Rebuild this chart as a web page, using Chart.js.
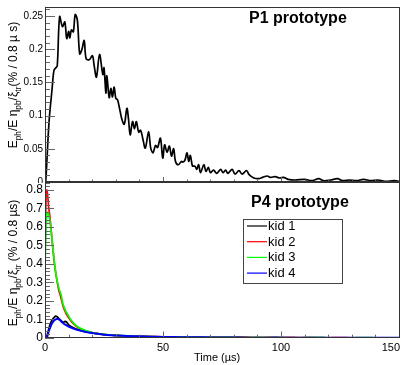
<!DOCTYPE html>
<html>
<head>
<meta charset="utf-8">
<script src="https://cdn.jsdelivr.net/npm/chart.js@4.4.0/dist/chart.umd.min.js"></script>
<style>
  html, body { margin: 0; padding: 0; background: #fff; }
  #wrap { position: relative; width: 407px; height: 365px; overflow: hidden; }
  canvas { position: absolute; left: 0; }
  #p1Chart { top: 0; }
  #p4Chart { top: 182px; }
</style>
</head>
<body>
<div id="wrap">
  <canvas id="p1Chart" width="407" height="183"></canvas>
  <canvas id="p4Chart" width="407" height="183"></canvas>
</div>
<script>
// P1 prototype, single readout
const p1Time = [0, 0.3, 1.7, 3.0, 3.8, 4.6, 5.2, 6.2, 7.4, 8.4, 9.2, 10.0, 10.5, 11.2, 12.0, 12.8, 13.7, 14.7, 15.6, 16.6,
  17.4, 18.7, 20.1, 20.8, 21.8, 23.1, 24.5, 25.0, 25.8, 26.2, 27.2, 27.9, 28.6, 29.3, 30.0, 30.7, 31.4, 32.6, 33.6, 34.7,
  35.4, 36.1, 37.1, 37.9, 38.7, 39.7, 40.5, 41.4, 42.5, 43.9, 44.8, 45.8, 46.8, 47.7, 48.9, 49.9, 50.7, 51.7, 52.7, 53.6,
  54.5, 55.3, 56.5, 57.8, 58.5, 59.3, 60.2, 60.9, 61.6, 62.5, 63.5, 64.3, 65.1, 65.9, 67.3, 68.2, 69.2, 70.1, 71.4, 72.8,
  74.4, 75.5, 76.5, 77.5, 79.3, 80.5, 82.2, 83.5, 85.4, 86.5, 88.5, 90.5, 92.2, 94.2, 95.5, 97.5, 99.5, 101, 103, 106,
  110, 113, 116, 118, 121, 124, 126, 129, 132, 135, 138, 141, 144, 148, 150];
const p1Signal = [0, 0.0, 0.09, 0.14, 0.168, 0.172, 0.175, 0.249, 0.234, 0.241, 0.216, 0.227, 0.217, 0.229, 0.226, 0.252, 0.244, 0.193, 0.199, 0.213,
  0.186, 0.184, 0.19, 0.176, 0.158, 0.192, 0.162, 0.172, 0.134, 0.16, 0.127, 0.141, 0.128, 0.143, 0.126, 0.124, 0.114, 0.094, 0.087, 0.111,
  0.094, 0.071, 0.091, 0.08, 0.091, 0.075, 0.078, 0.066, 0.051, 0.076, 0.051, 0.044, 0.055, 0.052, 0.066, 0.036, 0.056, 0.045, 0.054, 0.039,
  0.05, 0.031, 0.026, 0.031, 0.03, 0.033, 0.044, 0.031, 0.04, 0.024, 0.024, 0.019, 0.026, 0.014, 0.026, 0.016, 0.022, 0.014, 0.018, 0.013,
  0.019, 0.014, 0.018, 0.013, 0.019, 0.012, 0.017, 0.012, 0.017, 0.011, 0.006, 0.005, 0.007, 0.009, 0.007, 0.008, 0.006, 0.007, 0.004, 0.003,
  0.004, 0.002, 0.005, 0.002, 0.003, 0.005, 0.002, 0.003, 0.002, 0.004, 0.002, 0.003, 0.001, 0.002, 0.001];

// P4 prototype, four KIDs
const p4Time = [0, 0.4, 0.8, 1.2, 1.6, 2.0, 2.5, 3.0, 3.5, 4.0, 4.5, 5.0, 5.5, 6.0, 6.5, 7.0, 7.5, 8.0, 8.5, 9.0,
  9.5, 10, 11, 12, 13, 14, 15, 16.5, 18, 19.5, 21, 23, 25, 28, 31, 35, 40, 45, 50, 55,
  60, 65, 70, 75, 80, 85, 90, 95, 100, 105, 110, 115, 120, 125, 130, 135, 140, 145, 150];
const kid1 = [0, 0, 0.01, 0.03, 0.05, 0.068, 0.085, 0.097, 0.106, 0.113, 0.118, 0.116, 0.11, 0.104, 0.098, 0.092, 0.087, 0.086, 0.09, 0.088,
  0.08, 0.072, 0.062, 0.055, 0.05, 0.045, 0.041, 0.036, 0.032, 0.028, 0.025, 0.021, 0.018, 0.015, 0.013, 0.011, 0.009, 0.007, 0.006, 0.005,
  0.005, 0.004, 0.004, 0.003, 0.003, 0.003, 0.002, 0.002, 0.002, 0.002, 0.001, 0.002, 0.001, 0.001, 0.001, 0.001, 0.001, 0.001, 0.001];
const kid2 = [0.42, 0.74, 0.80, 0.76, 0.70, 0.665, 0.60, 0.53, 0.46, 0.40, 0.355, 0.315, 0.28, 0.25, 0.23, 0.205, 0.18, 0.16, 0.145, 0.13,
  0.12, 0.11, 0.092, 0.078, 0.066, 0.057, 0.05, 0.042, 0.035, 0.03, 0.027, 0.022, 0.019, 0.016, 0.013, 0.011, 0.009, 0.008, 0.006, 0.005,
  0.005, 0.004, 0.004, 0.003, 0.003, 0.003, 0.002, 0.003, 0.002, 0.002, 0.002, 0.001, 0.001, 0.002, 0.001, 0.001, 0.001, 0.001, 0.001];
const kid3 = [0.36, 0.58, 0.67, 0.68, 0.665, 0.64, 0.59, 0.53, 0.47, 0.41, 0.36, 0.32, 0.29, 0.265, 0.245, 0.225, 0.19, 0.17, 0.155, 0.14,
  0.13, 0.118, 0.098, 0.082, 0.07, 0.06, 0.052, 0.044, 0.037, 0.031, 0.026, 0.023, 0.02, 0.016, 0.014, 0.011, 0.009, 0.007, 0.006, 0.006,
  0.005, 0.004, 0.003, 0.004, 0.003, 0.002, 0.003, 0.002, 0.002, 0.001, 0.002, 0.002, 0.001, 0.001, 0.001, 0.002, 0.001, 0.001, 0.001];
const kid4 = [0, 0, 0.004, 0.018, 0.035, 0.05, 0.066, 0.079, 0.089, 0.096, 0.101, 0.103, 0.102, 0.099, 0.094, 0.088, 0.082, 0.077, 0.073, 0.069,
  0.066, 0.062, 0.056, 0.051, 0.047, 0.043, 0.04, 0.035, 0.031, 0.028, 0.025, 0.021, 0.018, 0.015, 0.013, 0.011, 0.009, 0.007, 0.006, 0.005,
  0.004, 0.004, 0.003, 0.003, 0.003, 0.002, 0.002, 0.002, 0.002, 0.001, 0.002, 0.001, 0.001, 0.001, 0.001, 0.001, 0.001, 0.001, 0.001];

const kidLabels = ["kid 1", "kid 2", "kid 3", "kid 4"];
const kidColors = ["#000000", "#ff0000", "#00ff00", "#0000ff"];

const xTicks = [0, 50, 100, 150];
const p1YTicks = [0, 0.05, 0.1, 0.15, 0.2, 0.25];
const p4YTicks = [0, 0.1, 0.2, 0.3, 0.4, 0.5, 0.6, 0.7, 0.8];

const FONT = "'Liberation Sans', Arial, Helvetica, sans-serif";

function toPoints(xs, ys) {
  return xs.map((x, i) => ({ x: x, y: ys[i] }));
}

// y axis title with subscripts, drawn rotated
function drawYTitle(ctx, parts, cx, cy, size) {
  ctx.save();
  ctx.translate(cx, cy);
  ctx.rotate(-Math.PI / 2);
  ctx.fillStyle = "#000";
  ctx.textBaseline = "alphabetic";
  let total = 0;
  parts.forEach((p) => {
    ctx.font = (p.sub ? size * 0.7 : size) + "px " + FONT;
    p.w = ctx.measureText(p.t).width;
    total += p.w;
  });
  let pos = -total / 2;
  parts.forEach((p) => {
    ctx.font = (p.sub ? size * 0.7 : size) + "px " + FONT;
    ctx.fillText(p.t, pos, p.sub ? size * 0.3 : 0);
    pos += p.w;
  });
  ctx.restore();
}

function framePlugin(opts) {
  return {
    id: "frame_" + opts.name,
    afterDraw(chart) {
      const { ctx, chartArea: a, scales } = chart;
      const x = scales.x, y = scales.y;
      ctx.save();
      // ticks
      ctx.strokeStyle = "#666";
      ctx.lineWidth = 1;
      ctx.beginPath();
      for (let v = 0; v <= 150.001; v += 10) {
        const px = Math.round(x.getPixelForValue(v)) + 0.5;
        const len = v % 50 === 0 ? opts.xMajor : opts.xMinor;
        ctx.moveTo(px, a.bottom);
        ctx.lineTo(px, a.bottom - len);
      }
      for (let k = 0; k * opts.yMinorStep <= y.max + 1e-9; k++) {
        const v = k * opts.yMinorStep;
        const py = Math.round(y.getPixelForValue(v)) + 0.5;
        const len = k % 5 === 0 ? opts.yMajor : opts.yMinor;
        ctx.moveTo(a.left, py);
        ctx.lineTo(a.left + len, py);
      }
      ctx.stroke();
      // frame
      ctx.strokeStyle = "#333";
      ctx.strokeRect(Math.round(a.left) + 0.5, Math.round(a.top) + 0.5,
        Math.round(a.right - a.left), Math.round(a.bottom - a.top) - 1);
      // panel title
      ctx.fillStyle = "#000";
      ctx.font = "bold 16px " + FONT;
      ctx.textAlign = "left";
      ctx.textBaseline = "alphabetic";
      ctx.fillText(opts.title, opts.titleX, opts.titleY);
      drawYTitle(ctx, opts.yTitle, 17, opts.yTitleCY, 12);
      if (opts.after) opts.after(chart);
      ctx.restore();
    },
  };
}

function yScale(max, ticks, fontSize) {
  return {
    type: "linear",
    min: 0,
    max: max,
    afterFit(scale) {
      scale.width = 45;
      scale.paddingTop = 0;
      scale.paddingBottom = 0;
    },
    afterBuildTicks(scale) { scale.ticks = ticks.map((v) => ({ value: v })); },
    grid: { display: false, drawTicks: false },
    border: { display: false },
    ticks: {
      padding: 2,
      color: "#000",
      font: { family: FONT, size: fontSize },
      autoSkip: false,
      callback: (v) => String(Math.round(v * 100) / 100),
    },
  };
}

const xScale = { type: "linear", min: 0, max: 150, display: false };

new Chart(document.getElementById("p1Chart"), {
  type: "line",
  data: {
    datasets: [{
      label: "P1",
      data: toPoints(p1Time, p1Signal),
      borderColor: "#000",
      borderWidth: 1.7,
      pointRadius: 0,
      tension: 0.35,
    }],
  },
  options: {
    responsive: false,
    animation: false,
    layout: { padding: { left: 0, top: 7, right: 8, bottom: 1 } },
    plugins: { legend: { display: false }, tooltip: { enabled: false } },
    scales: { x: xScale, y: yScale(0.2635, p1YTicks, 10) },
  },
  plugins: [framePlugin({
    name: "p1", xMajor: 5, xMinor: 2.5, yMajor: 10, yMinor: 5, yMinorStep: 0.01,
    title: "P1 prototype", titleX: 249, titleY: 23, yTitleCY: 85,
    yTitle: [{ t: "E" }, { t: "ph", sub: true }, { t: "/E " }, { t: "η" }, { t: "pb", sub: true },
      { t: "/" }, { t: "ξ" }, { t: "tr", sub: true }, { t: "(% / 0.8 µ s)" }],
  })],
});

new Chart(document.getElementById("p4Chart"), {
  type: "line",
  data: {
    datasets: [kid1, kid2, kid3, kid4].map((vals, i) => ({
      label: kidLabels[i],
      data: toPoints(p4Time, vals),
      borderColor: kidColors[i],
      borderWidth: i === 3 ? 2 : 1.7,
      pointRadius: 0,
      tension: 0.2,
      order: 3 - i, // later kids drawn on top
    })),
  },
  options: {
    responsive: false,
    animation: false,
    layout: { padding: { left: 0, top: 0, right: 8, bottom: 27 } },
    plugins: { legend: { display: false }, tooltip: { enabled: false } },
    scales: { x: xScale, y: yScale(0.843, p4YTicks, 12) },
  },
  plugins: [framePlugin({
    name: "p4", xMajor: 6.5, xMinor: 3.3, yMajor: 9, yMinor: 5, yMinorStep: 0.02,
    title: "P4 prototype", titleX: 251, titleY: 25, yTitleCY: 81,
    yTitle: [{ t: "E" }, { t: "ph", sub: true }, { t: "/E " }, { t: "η" }, { t: "pb", sub: true },
      { t: "/" }, { t: "ξ" }, { t: "tr", sub: true }, { t: " (% / 0.8 µs)" }],
    after(chart) {
      const { ctx, chartArea: a, scales: { x } } = chart;
      // x tick labels
      ctx.fillStyle = "#000";
      ctx.font = "11px " + FONT;
      ctx.textBaseline = "top";
      xTicks.forEach((v, i) => {
        const px = x.getPixelForValue(v);
        ctx.textAlign = i === xTicks.length - 1 ? "right" : "center";
        ctx.fillText(String(v), i === xTicks.length - 1 ? px + 1 : px, a.bottom + 4);
      });
      ctx.textAlign = "left";
      ctx.fillText("Time (µs)", 194, a.bottom + 14);
      // legend
      const lx = 243.5, ly = 37.5, lw = 99, lh = 64;
      ctx.fillStyle = "#fff";
      ctx.fillRect(lx, ly, lw, lh);
      ctx.strokeStyle = "#444";
      ctx.lineWidth = 1;
      ctx.strokeRect(lx, ly, lw, lh);
      ctx.font = "13px " + FONT;
      ctx.textBaseline = "middle";
      chart.data.datasets.forEach((ds, i) => {
        const ry = 44 + i * 15.7;
        ctx.strokeStyle = ds.borderColor;
        ctx.lineWidth = 1.2;
        ctx.beginPath();
        ctx.moveTo(247, ry);
        ctx.lineTo(267, ry);
        ctx.stroke();
        ctx.fillStyle = "#000";
        ctx.fillText(ds.label, 268, ry + 0.5);
      });
    },
  })],
});
</script>
</body>
</html>
